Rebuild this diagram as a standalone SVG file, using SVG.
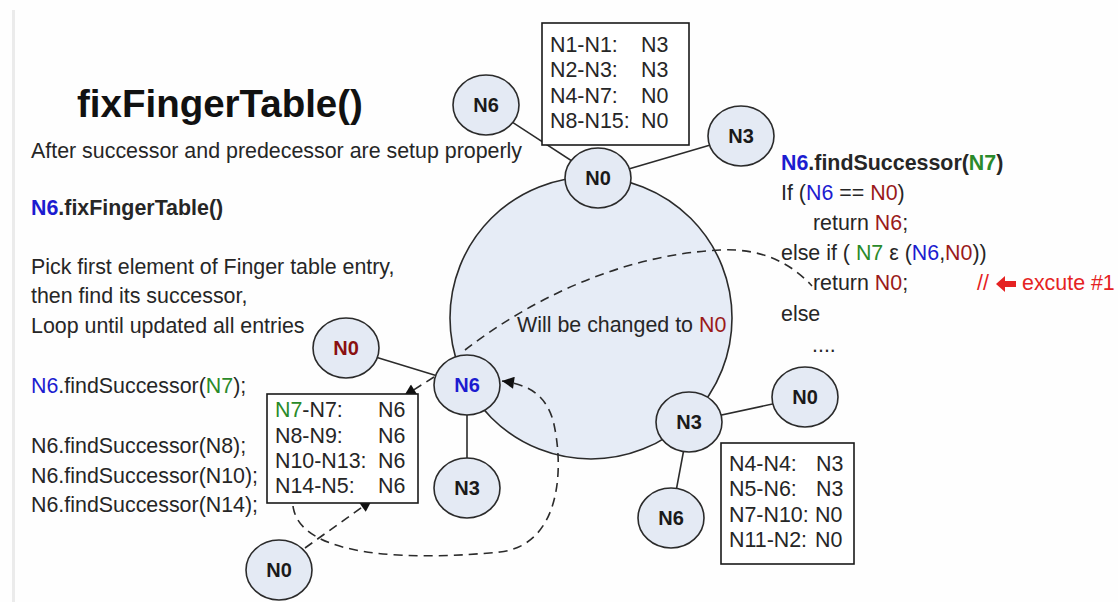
<svg xmlns="http://www.w3.org/2000/svg" width="1118" height="602" viewBox="0 0 1118 602">
<defs>
<style>
.t{font-family:"Liberation Sans",Arial,sans-serif;font-size:21.4px;fill:#262626}
.b{font-weight:bold}
.lbl{font-family:"Liberation Sans",Arial,sans-serif;font-size:20px;font-weight:bold;fill:#1a1a1a;text-anchor:middle}
.node{fill:#e4eaf4;stroke:#2b2b2b;stroke-width:1.6}
.ring{fill:#e6ecf6;stroke:#2b2b2b;stroke-width:1.6}
.ln{stroke:#2b2b2b;stroke-width:1.6;fill:none}
.dash{stroke:#2b2b2b;stroke-width:1.6;fill:none;stroke-dasharray:9 6}
.box{fill:#ffffff;stroke:#1a1a1a;stroke-width:1.6}
.bl{fill:#1c1cd0}
.gr{fill:#2a8a2a}
.rd{fill:#9a1a1a}
.red{fill:#e52222}
</style>
<marker id="ah" viewBox="0 0 10 10" refX="10" refY="5" markerWidth="13" markerHeight="12" markerUnits="userSpaceOnUse" orient="auto">
<path d="M0,0 L10,5 L0,10 z" fill="#111"/>
</marker>
</defs>
<rect x="0" y="0" width="1118" height="602" fill="#fefefe"/>
<rect x="12" y="10" width="3" height="592" fill="#ebebeb"/>

<g id="ring"><circle class="ring" cx="591" cy="318" r="141"/></g>

<g id="connectors">
<line class="ln" x1="486" y1="105" x2="598" y2="178"/>
<line class="ln" x1="598" y1="178" x2="741" y2="136"/>
<line class="ln" x1="346" y1="348" x2="467" y2="385"/>
<line class="ln" x1="467" y1="385" x2="467" y2="488"/>
<line class="ln" x1="689" y1="422" x2="805" y2="397"/>
<line class="ln" x1="689" y1="422" x2="671" y2="518"/>
<path class="dash" d="M 465 350 C 530 300, 620 255, 720 250 C 760 248, 790 262, 812 286"/>
<path class="dash" d="M 434 377 L 404 396" marker-end="url(#ah)"/>
<path class="dash" d="M 293 506 C 300 560, 420 560, 500 552 C 560 545, 565 470, 553 420 C 545 395, 530 385, 502 381" marker-end="url(#ah)"/>
<path class="dash" d="M 305 548 L 372 500" marker-end="url(#ah)"/>
</g>

<g id="n0-top"><ellipse class="node" cx="598" cy="178" rx="33" ry="30"/><text class="lbl" x="598" y="185">N0</text></g>
<g id="n6-topleft"><ellipse class="node" cx="486" cy="105" rx="33" ry="30"/><text class="lbl" x="486" y="112">N6</text></g>
<g id="n3-topright"><ellipse class="node" cx="741" cy="136" rx="33" ry="30"/><text class="lbl" x="741" y="143">N3</text></g>
<g id="n6-ring"><ellipse class="node" cx="467" cy="385" rx="33" ry="30"/><text class="lbl" x="467" y="392" style="fill:#1c1cd0">N6</text></g>
<g id="n0-left"><ellipse class="node" cx="346" cy="348" rx="33" ry="30"/><text class="lbl" x="346" y="355" style="fill:#8a1010">N0</text></g>
<g id="n3-below"><ellipse class="node" cx="467" cy="488" rx="33" ry="30"/><text class="lbl" x="467" y="495">N3</text></g>
<g id="n0-bottom"><ellipse class="node" cx="279" cy="570" rx="33" ry="30"/><text class="lbl" x="279" y="577">N0</text></g>
<g id="n3-ring"><ellipse class="node" cx="689" cy="422" rx="33" ry="30"/><text class="lbl" x="689" y="429">N3</text></g>
<g id="n0-right"><ellipse class="node" cx="805" cy="397" rx="33" ry="30"/><text class="lbl" x="805" y="404">N0</text></g>
<g id="n6-bottomright"><ellipse class="node" cx="671" cy="518" rx="33" ry="30"/><text class="lbl" x="671" y="525">N6</text></g>

<g id="table-n0">
<rect class="box" x="542" y="23" width="147" height="122"/>
<text class="t" x="550" y="52">N1-N1:</text><text class="t" x="641" y="52">N3</text>
<text class="t" x="550" y="77">N2-N3:</text><text class="t" x="641" y="77">N3</text>
<text class="t" x="550" y="103">N4-N7:</text><text class="t" x="641" y="103">N0</text>
<text class="t" x="550" y="128">N8-N15:</text><text class="t" x="641" y="128">N0</text>
</g>

<g id="table-n6">
<rect class="box" x="267" y="394" width="151" height="109"/>
<text class="t" x="275" y="417"><tspan class="gr">N7</tspan>-N7:</text><text class="t" x="378" y="417">N6</text>
<text class="t" x="275" y="443">N8-N9:</text><text class="t" x="378" y="443">N6</text>
<text class="t" x="275" y="468">N10-N13:</text><text class="t" x="378" y="468">N6</text>
<text class="t" x="275" y="493">N14-N5:</text><text class="t" x="378" y="493">N6</text>
</g>

<g id="table-n3">
<rect class="box" x="721" y="443" width="133" height="121"/>
<text class="t" x="729" y="471">N4-N4:</text><text class="t" x="816" y="471">N3</text>
<text class="t" x="729" y="496">N5-N6:</text><text class="t" x="816" y="496">N3</text>
<text class="t" x="729" y="522">N7-N10:</text><text class="t" x="815" y="522">N0</text>
<text class="t" x="729" y="547">N11-N2:</text><text class="t" x="815" y="547">N0</text>
</g>

<g id="left-text">
<text class="t b" x="77" y="117" style="font-size:38.5px;fill:#111">fixFingerTable()</text>
<text class="t" x="31" y="158">After successor and predecessor are setup properly</text>
<text class="t b" x="31" y="215"><tspan class="bl">N6</tspan>.fixFingerTable()</text>
<text class="t" x="31" y="274">Pick first element of Finger table entry,</text>
<text class="t" x="31" y="303">then find its successor,</text>
<text class="t" x="31" y="333">Loop until updated all entries</text>
<text class="t" x="31" y="393"><tspan class="bl">N6</tspan>.findSuccessor(<tspan class="gr">N7</tspan>);</text>
<text class="t" x="31" y="453">N6.findSuccessor(N8);</text>
<text class="t" x="31" y="483">N6.findSuccessor(N10);</text>
<text class="t" x="31" y="512">N6.findSuccessor(N14);</text>
</g>

<g id="code-text">
<text class="t b" x="781" y="170"><tspan class="bl">N6</tspan>.findSuccessor(<tspan class="gr">N7</tspan>)</text>
<text class="t" x="781" y="200">If (<tspan class="bl">N6</tspan> == <tspan class="rd">N0</tspan>)</text>
<text class="t" x="813" y="230">return <tspan class="rd">N6</tspan>;</text>
<text class="t" x="781" y="260">else if ( <tspan class="gr">N7</tspan> ε (<tspan class="bl">N6</tspan>,<tspan class="rd">N0</tspan>))</text>
<text class="t" x="813" y="290">return <tspan class="rd">N0</tspan>;</text>
<text class="t red" x="977" y="290">//</text>
<path d="M 996 284 L 1005 276 L 1005 281 L 1016 281 L 1016 287 L 1005 287 L 1005 292 Z" fill="#e52222"/>
<text class="t red" x="1022" y="290">excute #1</text>
<text class="t" x="781" y="321">else</text>
<text class="t" x="812" y="352">....</text>
</g>

<g id="ring-note">
<text class="t" x="517" y="332">Will be changed to <tspan class="rd">N0</tspan></text>
</g>
</svg>
